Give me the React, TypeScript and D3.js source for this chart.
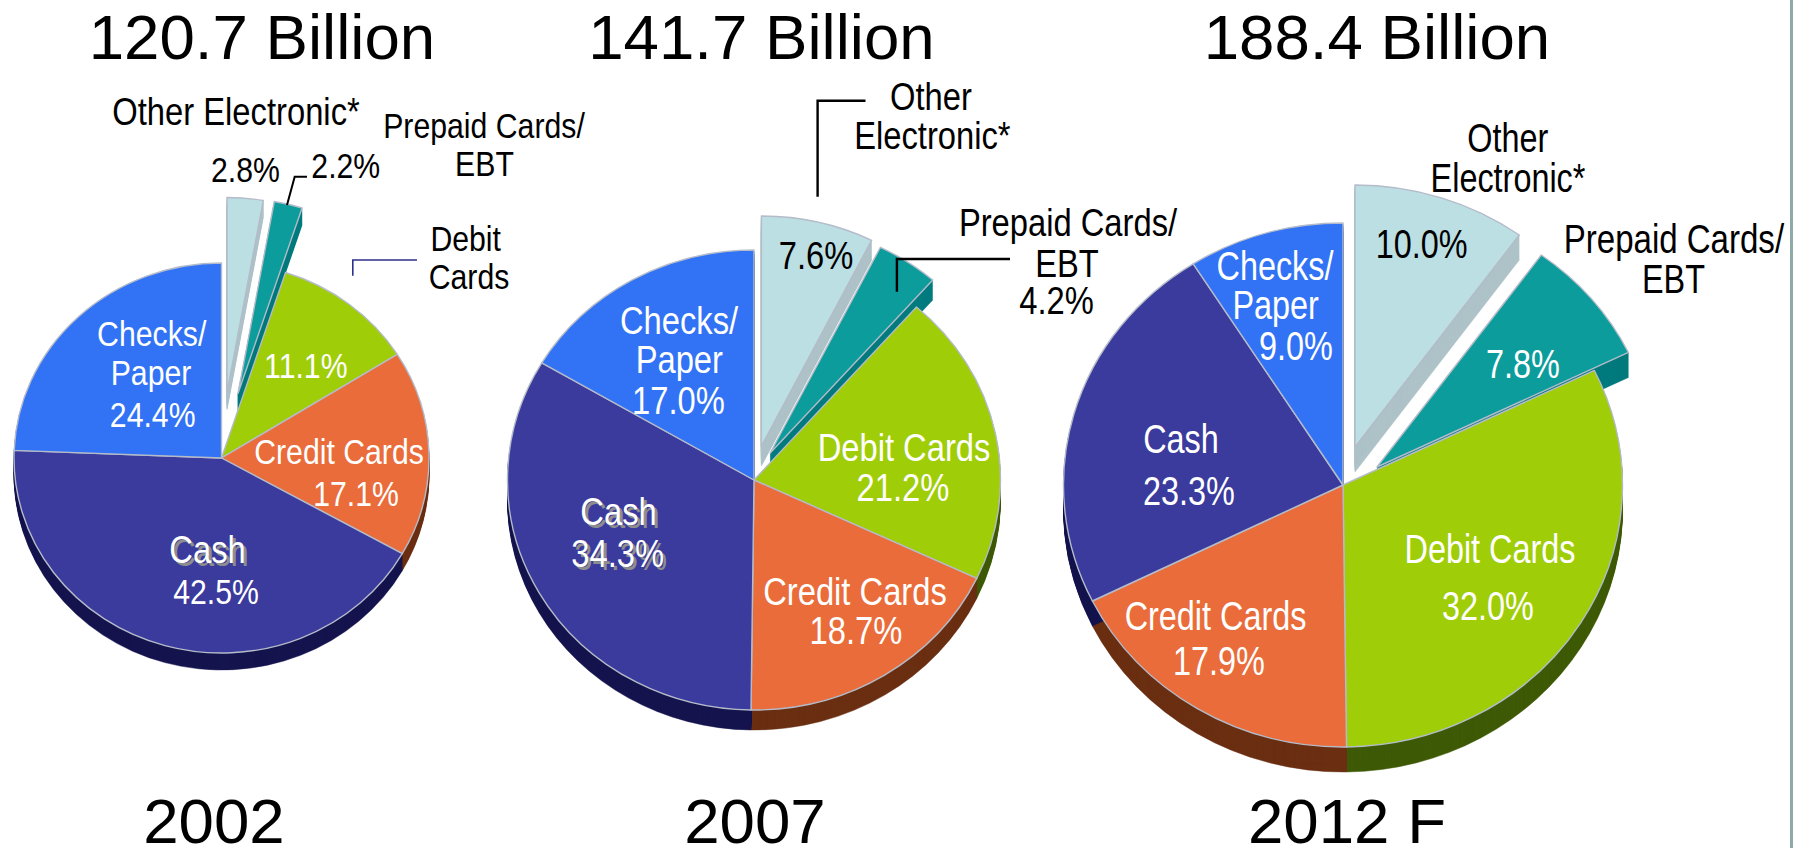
import React from "react";
import * as d3 from "d3";

// Payment method shares of consumer spending, clockwise from twelve o'clock.
const CATEGORIES = ["Other Electronic*", "Prepaid Cards/EBT", "Debit Cards", "Credit Cards", "Cash", "Checks/Paper"];
const YEARS = ["2002", "2007", "2012 F"];
const TOTALS = ["120.7 Billion", "141.7 Billion", "188.4 Billion"];
const SHARES_2002 = [2.8, 2.2, 11.1, 17.1, 42.5, 24.4];
const SHARES_2007 = [7.6, 4.2, 21.2, 18.7, 34.3, 17.0];
const SHARES_2012 = [10.0, 7.8, 32.0, 17.9, 23.3, 9.0];

const FACE_COLORS = ["#bcdfe3", "#0c9c9c", "#9fcd08", "#e96c3a", "#3b3a9d", "#3273f6"];
const WALL_COLORS = ["#aec3c8", "#017b7e", "#3f5a06", "#6b2f12", "#15144e", "#1c3f8a"];
const INK = "#000000";
const PAPER = "#ffffff";
const EDGE = "#b4bbc9";
const FONT = "'Liberation Sans', Arial, sans-serif";

const UNIT = 1000;
const unitArc = d3.arc<d3.PieArcDatum<number>>().innerRadius(0).outerRadius(UNIT);
const layoutPie = d3.pie<number>().sort(null).startAngle(0).endAngle(2 * Math.PI);
const leaderLine = d3.line();
const pct = (v: number) => `${v.toFixed(1)}%`;

// Slice placement: the main disc, plus the apex of each of the two pulled-out wedges.
const PIES = [
  {
    shares: SHARES_2002, cx: 221.5, cy: 458, rx: 207.5, ry: 195, depth: 17, font: 36, squeeze: 0.84,
    pulled: [
      { x: 227, y: 392.5 },
      { x: 238, y: 393.5 },
    ],
  },
  {
    shares: SHARES_2007, cx: 754, cy: 480, rx: 246.5, ry: 230, depth: 20, font: 38.5, squeeze: 0.85,
    pulled: [
      { x: 761.4, y: 446 },
      { x: 770.2, y: 453 },
    ],
  },
  {
    shares: SHARES_2012, cx: 1343, cy: 485, rx: 279.5, ry: 262, depth: 25, font: 40, squeeze: 0.81,
    pulled: [
      { x: 1355, y: 447 },
      { x: 1377, y: 467 },
    ],
  },
];

const TITLE_X = [262, 761.5, 1377];
const YEAR_X = [214, 755, 1347];

type Note = { t: string; x: number; y: number; c?: string; shadow?: boolean; size?: number };
const WHITE = PAPER;

// Every caption per pie; the percentages read from the share arrays.
const NOTES: Note[][] = [
  [
    { t: "Other Electronic*", x: 236, y: 125, c: INK, size: 39 },
    { t: pct(SHARES_2002[0]), x: 245.5, y: 181.7, c: INK },
    { t: pct(SHARES_2002[1]), x: 345.8, y: 177.7, c: INK },
    { t: "Prepaid Cards/", x: 484, y: 138, c: INK },
    { t: "EBT", x: 484.5, y: 176, c: INK },
    { t: "Debit", x: 465.7, y: 251, c: INK },
    { t: "Cards", x: 469, y: 289, c: INK },
    { t: "Checks/", x: 151.7, y: 346 },
    { t: "Paper", x: 151, y: 385 },
    { t: pct(SHARES_2002[5]), x: 152.7, y: 427 },
    { t: pct(SHARES_2002[2]), x: 305.8, y: 378 },
    { t: "Credit Cards", x: 339, y: 464 },
    { t: pct(SHARES_2002[3]), x: 356, y: 506 },
    { t: "Cash", x: 207.5, y: 563, shadow: true, size: 39 },
    { t: pct(SHARES_2002[4]), x: 216, y: 604 },
  ],
  [
    { t: "Other", x: 931, y: 110, c: INK },
    { t: "Electronic*", x: 932.4, y: 149.3, c: INK },
    { t: pct(SHARES_2007[0]), x: 816, y: 269, c: INK },
    { t: "Prepaid Cards/", x: 1068, y: 235.7, c: INK },
    { t: "EBT", x: 1067, y: 276.7, c: INK },
    { t: pct(SHARES_2007[1]), x: 1056.6, y: 314, c: INK },
    { t: "Checks/", x: 679, y: 334 },
    { t: "Paper", x: 679.3, y: 373 },
    { t: pct(SHARES_2007[5]), x: 678.5, y: 414 },
    { t: "Debit Cards", x: 904, y: 460.7 },
    { t: pct(SHARES_2007[2]), x: 903, y: 501 },
    { t: "Cash", x: 618.5, y: 525, shadow: true },
    { t: pct(SHARES_2007[4]), x: 617.7, y: 566.7, shadow: true },
    { t: "Credit Cards", x: 855, y: 605 },
    { t: pct(SHARES_2007[3]), x: 856, y: 644 },
  ],
  [
    { t: "Other", x: 1507.8, y: 151.7, c: INK },
    { t: "Electronic*", x: 1508, y: 191.7, c: INK },
    { t: pct(SHARES_2012[0]), x: 1421.7, y: 258, c: INK },
    { t: "Prepaid Cards/", x: 1673.9, y: 253, c: INK, size: 40.8 },
    { t: "EBT", x: 1673.5, y: 293, c: INK },
    { t: pct(SHARES_2012[1]), x: 1523, y: 378 },
    { t: "Checks/", x: 1275, y: 280 },
    { t: "Paper", x: 1275.7, y: 319 },
    { t: pct(SHARES_2012[5]), x: 1296, y: 360 },
    { t: "Cash", x: 1181, y: 453 },
    { t: pct(SHARES_2012[4]), x: 1189, y: 505 },
    { t: "Debit Cards", x: 1490, y: 562.6 },
    { t: pct(SHARES_2012[2]), x: 1488, y: 620 },
    { t: "Credit Cards", x: 1215.5, y: 630 },
    { t: pct(SHARES_2012[3]), x: 1219, y: 675 },
  ],
];

// Elbow leaders that tie a caption to its wedge.
const LEADERS: { pts: [number, number][]; color: string; w: number }[] = [
  { pts: [[287, 205], [294.7, 176.7], [307, 176.7]], color: INK, w: 2 },
  { pts: [[352.8, 275.7], [352.8, 260], [417, 260]], color: "#2f2f8f", w: 1.6 },
  { pts: [[817.6, 196.7], [817.6, 100.7], [865.5, 100.7]], color: INK, w: 2.4 },
  { pts: [[896.9, 291.7], [896.9, 259], [1010, 259]], color: INK, w: 2.4 },
];

// A stack of dark copies of a wedge forms its side wall.
function Wall({ d, i, x, y, rx, ry, depth }: { d: d3.PieArcDatum<number>; i: number; x: number; y: number; rx: number; ry: number; depth: number }) {
  const path = unitArc(d) as string;
  return (
    <g>
      {d3.range(depth, 0, -1).map((dy) => (
        <path
          key={dy}
          d={path}
          transform={`translate(${x},${y + dy}) scale(${rx / UNIT},${ry / UNIT})`}
          fill={WALL_COLORS[i]}
          stroke={WALL_COLORS[i]}
          strokeWidth={0.5}
          vectorEffect="non-scaling-stroke"
        />
      ))}
    </g>
  );
}

function Face({ d, i, x, y, rx, ry }: { d: d3.PieArcDatum<number>; i: number; x: number; y: number; rx: number; ry: number }) {
  return (
    <path
      d={unitArc(d) as string}
      transform={`translate(${x},${y}) scale(${rx / UNIT},${ry / UNIT})`}
      fill={FACE_COLORS[i]}
      stroke={EDGE}
      strokeWidth={1.4}
      strokeLinejoin="round"
      vectorEffect="non-scaling-stroke"
    />
  );
}

function Pie({ index }: { index: number }) {
  const p = PIES[index];
  const arcs = layoutPie(p.shares);
  const main = arcs.map((d, i) => ({ d, i })).filter(({ i }) => i >= p.pulled.length);
  return (
    <g>
      {p.pulled.map((w, i) => (
        <g key={CATEGORIES[i]}>
          <Wall d={arcs[i]} i={i} x={w.x} y={w.y} rx={p.rx} ry={p.ry} depth={p.depth} />
          <Face d={arcs[i]} i={i} x={w.x} y={w.y} rx={p.rx} ry={p.ry} />
        </g>
      ))}
      {main.map(({ d, i }) => (
        <Wall key={i} d={d} i={i} x={p.cx} y={p.cy} rx={p.rx} ry={p.ry} depth={p.depth} />
      ))}
      {main.map(({ d, i }) => (
        <Face key={i} d={d} i={i} x={p.cx} y={p.cy} rx={p.rx} ry={p.ry} />
      ))}
    </g>
  );
}

function Caption({ n, font, squeeze }: { n: Note; font: number; squeeze: number }) {
  const size = n.size ?? font;
  const fill = n.c ?? WHITE;
  return (
    <g fontFamily={FONT} fontSize={size} textAnchor="middle">
      {n.shadow && (
        <text transform={`translate(${n.x + 3},${n.y + 3}) scale(${squeeze},1)`} fill="#8d8d8d">
          {n.t}
        </text>
      )}
      <text transform={`translate(${n.x},${n.y}) scale(${squeeze},1)`} fill={fill}>
        {n.t}
      </text>
    </g>
  );
}

export default function App() {
  return (
    <svg width={1793} height={848} viewBox="0 0 1793 848" style={{ position: "absolute", left: 0, top: 0, background: PAPER }}>
      <rect x={1790} y={0} width={3} height={848} fill="#8fa8a8" />
      {PIES.map((_, i) => (
        <Pie key={YEARS[i]} index={i} />
      ))}
      {LEADERS.map((l, i) => (
        <path key={i} d={leaderLine(l.pts) as string} fill="none" stroke={l.color} strokeWidth={l.w} />
      ))}
      {NOTES.map((group, i) =>
        group.map((n, j) => <Caption key={`${i}-${j}`} n={n} font={PIES[i].font} squeeze={PIES[i].squeeze} />)
      )}
      <g fontFamily={FONT} fontSize={63.6} textAnchor="middle" fill={INK}>
        {TOTALS.map((t, i) => (
          <text key={t} x={TITLE_X[i]} y={58.5}>
            {t}
          </text>
        ))}
        {YEARS.map((t, i) => (
          <text key={t} x={YEAR_X[i]} y={843}>
            {t}
          </text>
        ))}
      </g>
    </svg>
  );
}
